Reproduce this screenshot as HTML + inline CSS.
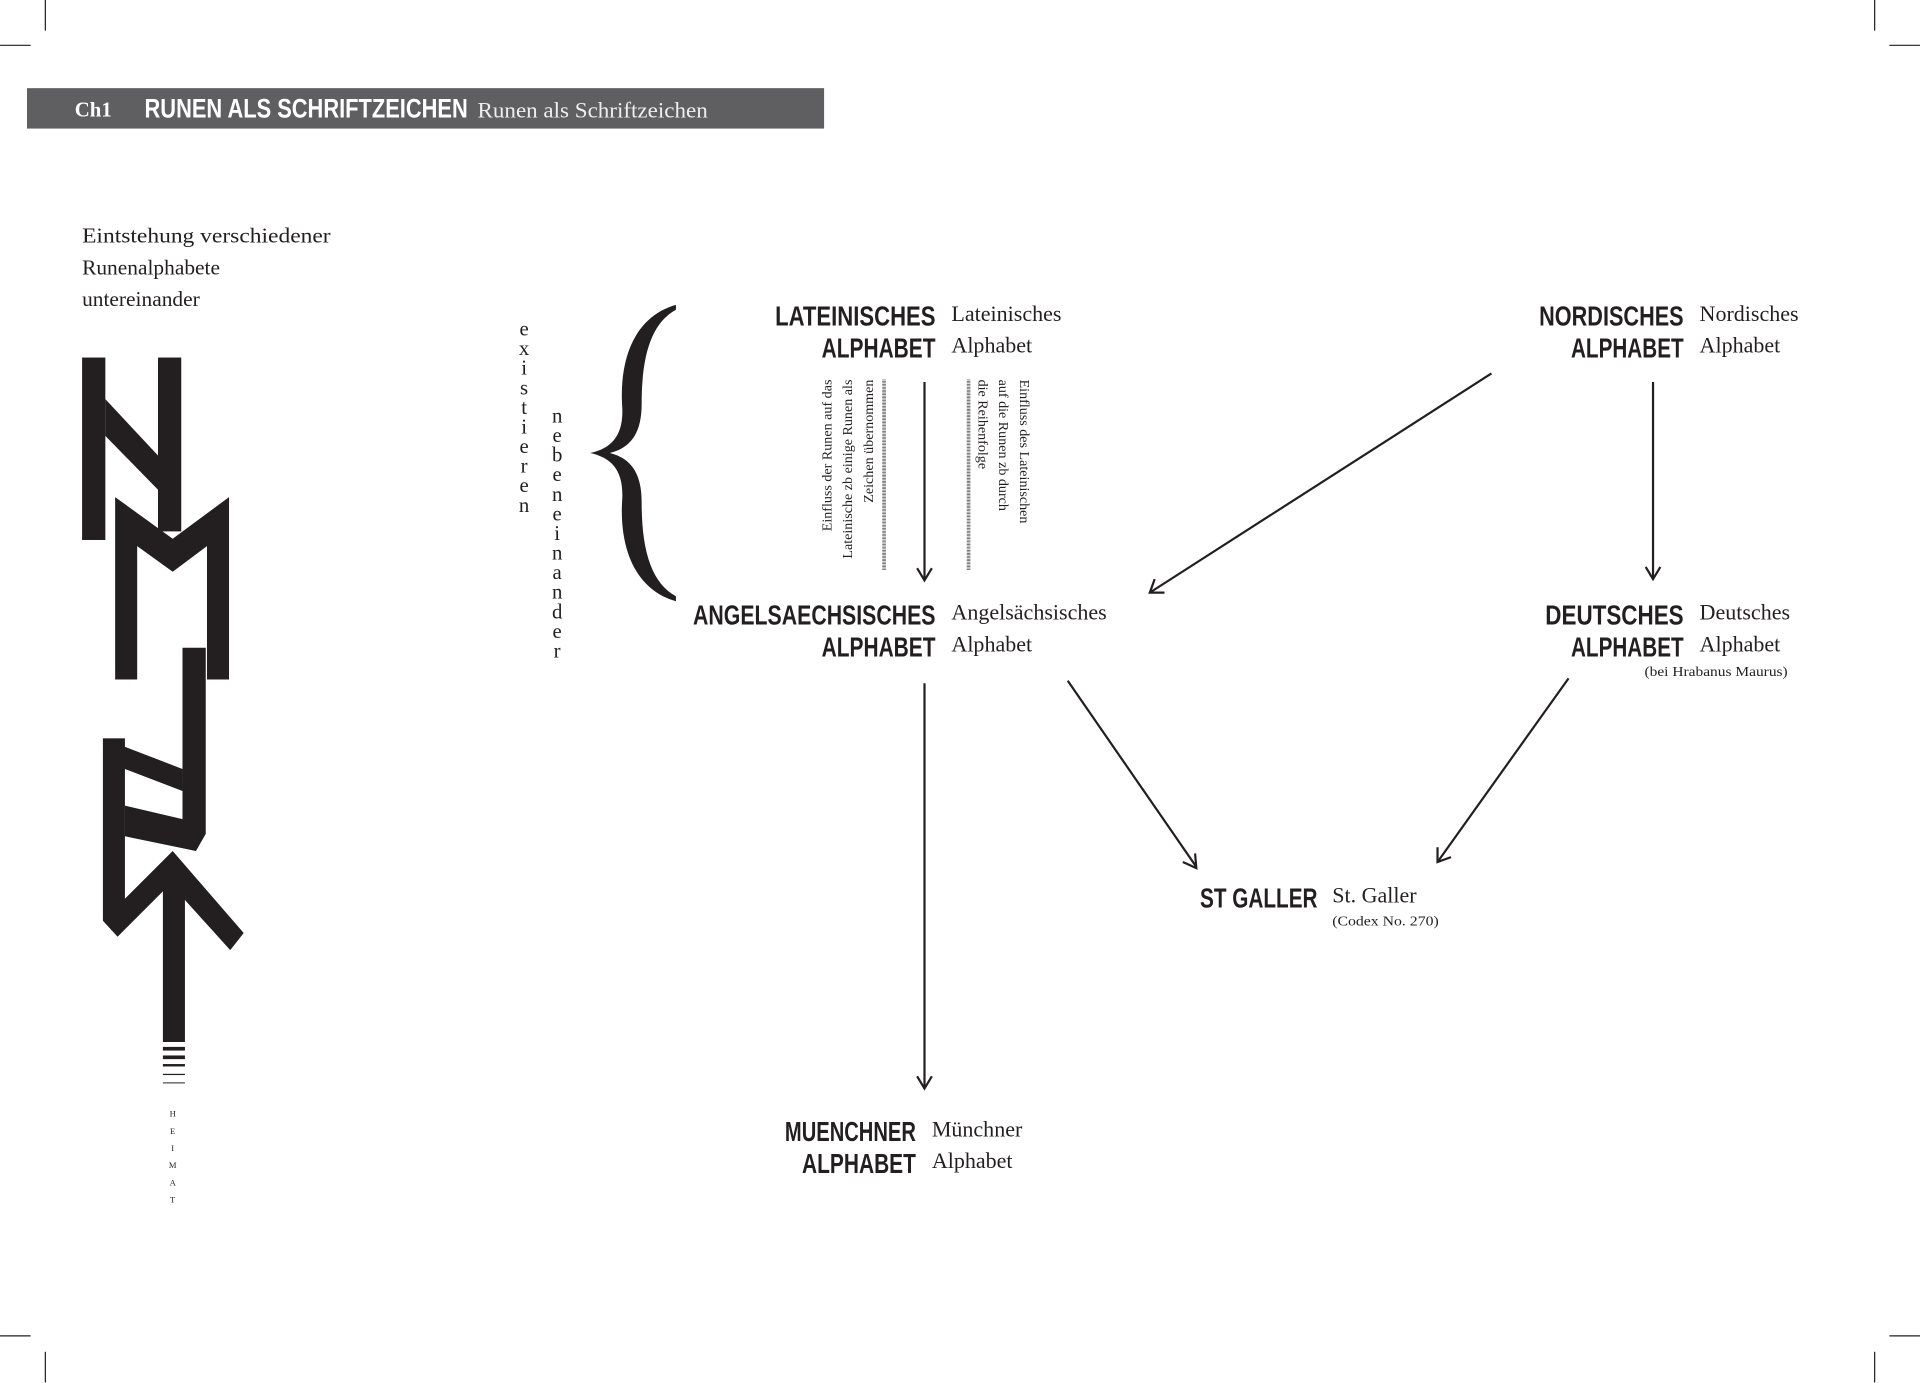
<!DOCTYPE html>
<html><head><meta charset="utf-8"><style>
html,body{margin:0;padding:0;background:#fff;}
svg{display:block;}
.s{font-family:"Liberation Serif",serif;fill:#231f20;}
.r{font-family:"Liberation Sans Narrow","Liberation Sans",sans-serif;font-weight:bold;fill:#231f20;}
</style></head><body>
<svg width="1920" height="1383" viewBox="0 0 1568 1129.5" xmlns="http://www.w3.org/2000/svg">
<g stroke="#231f20" stroke-width="1">
<line x1="37" y1="0" x2="37" y2="25"/><line x1="0" y1="37" x2="25" y2="37"/>
<line x1="1531" y1="0" x2="1531" y2="25"/><line x1="1543" y1="37" x2="1568" y2="37"/>
<line x1="37" y1="1104" x2="37" y2="1129"/><line x1="0" y1="1091" x2="25" y2="1091"/>
<line x1="1531" y1="1104" x2="1531" y2="1129"/><line x1="1543" y1="1091" x2="1568" y2="1091"/>
</g>
<rect x="22" y="72" width="651" height="33" fill="#5f5f61"/>
<text x="61" y="95" font-family="Liberation Serif,serif" font-weight="bold" font-size="17" fill="#fff">Ch1</text>
<text x="118" y="96" class="r" style="fill:#fff" font-size="22" textLength="264" lengthAdjust="spacingAndGlyphs">RUNEN ALS SCHRIFTZEICHEN</text>
<text x="390" y="96" font-family="Liberation Serif,serif" font-size="18" fill="#eee" textLength="188" lengthAdjust="spacingAndGlyphs">Runen als Schriftzeichen</text>

<g class="s" font-size="17.5">
<text x="67" y="198" textLength="203" lengthAdjust="spacingAndGlyphs">Eintstehung verschiedener</text>
<text x="67" y="224">Runenalphabete</text>
<text x="67" y="250">untereinander</text>
</g>

<!-- big glyph -->
<g fill="#231f20">
<rect x="67" y="292" width="19" height="149"/>
<rect x="129" y="292" width="19" height="142"/>
<polygon points="86,326 129,372 129,400 86,356"/>
<polygon points="94,555 94,406 141,440 187,406 187,555 169,555 169,446 141,467 112,446 112,555"/>
<polygon points="149,529 168,529 168,681 160,695 149,692"/>
<rect x="84" y="603" width="18" height="149"/>
<polygon points="84,603 149,628 149,646 102,628"/>
<polygon points="102,658 149,669 160,695 102,683"/>
<polygon points="141,695 199,762 188,776 151,735 151,851 133,851 133,728 96,765 84,752"/>
<rect x="133" y="855" width="18" height="3"/>
<rect x="133" y="862" width="18" height="3"/>
<rect x="133" y="869" width="18" height="2"/>
<rect x="133" y="877" width="18" height="1"/>
<rect x="133" y="884" width="18" height="0.8"/>
</g>
<g class="s" font-size="7" text-anchor="middle">
<text x="141" y="912">H</text><text x="141" y="926">E</text><text x="141" y="940">I</text>
<text x="141" y="954">M</text><text x="141" y="968">A</text><text x="141" y="982">T</text>
</g>

<!-- vertical words -->
<g class="s" font-size="17" text-anchor="middle">
<text x="428" y="274">e</text><text x="428" y="290">x</text><text x="428" y="306">i</text><text x="428" y="322">s</text><text x="428" y="338">t</text><text x="428" y="354">i</text><text x="428" y="370">e</text><text x="428" y="386">r</text><text x="428" y="402">e</text><text x="428" y="418">n</text>
<text x="455" y="345">n</text><text x="455" y="361">e</text><text x="455" y="377">b</text><text x="455" y="393">e</text><text x="455" y="409">n</text><text x="455" y="425">e</text><text x="455" y="441">i</text><text x="455" y="457">n</text><text x="455" y="473">a</text><text x="455" y="489">n</text><text x="455" y="505">d</text><text x="455" y="521">e</text><text x="455" y="537">r</text>
</g>
<!-- brace -->
<path fill="#231f20" d="M552,249 C520,258 506,290 508,330 C510,355 500,366 482,370 C500,374 510,385 508,410 C506,450 520,482 552,491 L552,487 C532,476 524,450 524,410 C524,385 514,374 498,370 C514,366 524,355 524,330 C524,290 532,264 552,253 Z"/>

<!-- nodes -->
<g class="r" font-size="23">
<text x="633" y="266" textLength="131" lengthAdjust="spacingAndGlyphs">LATEINISCHES</text>
<text x="671" y="292" textLength="93" lengthAdjust="spacingAndGlyphs">ALPHABET</text>
<text x="566" y="510" textLength="198" lengthAdjust="spacingAndGlyphs">ANGELSAECHSISCHES</text>
<text x="671" y="536" textLength="93" lengthAdjust="spacingAndGlyphs">ALPHABET</text>
<text x="1257" y="266" textLength="118" lengthAdjust="spacingAndGlyphs">NORDISCHES</text>
<text x="1283" y="292" textLength="92" lengthAdjust="spacingAndGlyphs">ALPHABET</text>
<text x="1262" y="510" textLength="113" lengthAdjust="spacingAndGlyphs">DEUTSCHES</text>
<text x="1283" y="536" textLength="92" lengthAdjust="spacingAndGlyphs">ALPHABET</text>
<text x="980" y="741" textLength="96" lengthAdjust="spacingAndGlyphs">ST GALLER</text>
<text x="641" y="932" textLength="107" lengthAdjust="spacingAndGlyphs">MUENCHNER</text>
<text x="655" y="958" textLength="93" lengthAdjust="spacingAndGlyphs">ALPHABET</text>
</g>
<g class="s" font-size="18">
<text x="777" y="262">Lateinisches</text>
<text x="777" y="288">Alphabet</text>
<text x="777" y="506">Angelsächsisches</text>
<text x="777" y="532">Alphabet</text>
<text x="1388" y="262">Nordisches</text>
<text x="1388" y="288">Alphabet</text>
<text x="1388" y="506">Deutsches</text>
<text x="1388" y="532">Alphabet</text>
<text x="1088" y="737">St. Galler</text>
<text x="761" y="928">Münchner</text>
<text x="761" y="954">Alphabet</text>
</g>
<g class="s" font-size="11">
<text x="1343" y="552" textLength="117" lengthAdjust="spacingAndGlyphs">(bei Hrabanus Maurus)</text>
<text x="1088" y="756" textLength="87" lengthAdjust="spacingAndGlyphs">(Codex No. 270)</text>
</g>

<!-- vertical notes -->
<g class="s" font-size="11.5" text-anchor="end">
<text transform="translate(679,310) rotate(-90)">Einfluss der Runen auf das</text>
<text transform="translate(696,310) rotate(-90)">Lateinische zb einige Runen als</text>
<text transform="translate(713,310) rotate(-90)">Zeichen übernommen</text>
</g>
<g class="s" font-size="11.5">
<text transform="translate(833,310) rotate(90)">Einfluss des Lateinischen</text>
<text transform="translate(816,310) rotate(90)">auf die Runen zb durch</text>
<text transform="translate(799,310) rotate(90)">die Reihenfolge</text>
</g>
<line x1="722" y1="310" x2="722" y2="466" stroke="#555" stroke-width="3" stroke-dasharray="0.6 0.6"/>
<line x1="791" y1="310" x2="791" y2="466" stroke="#555" stroke-width="3" stroke-dasharray="0.6 0.6"/>

<!-- arrows -->
<g stroke="#231f20" stroke-width="1.8" fill="none">
<line x1="755" y1="312" x2="755" y2="473"/><polyline points="749,464 755,474 761,464"/>
<line x1="1350" y1="312" x2="1350" y2="472"/><polyline points="1344,463 1350,473 1356,463"/>
<line x1="755" y1="558" x2="755" y2="888"/><polyline points="749,879 755,889 761,879"/>
<line x1="1218" y1="305" x2="939" y2="484"/><polyline points="943,473 939,484 951,484"/>
<line x1="872" y1="556" x2="977" y2="708"/><polyline points="966,704 977,709 976,697"/>
<line x1="1281" y1="554" x2="1174" y2="704"/><polyline points="1174,692 1174,704 1185,700"/>
</g>
</svg>
</body></html>
